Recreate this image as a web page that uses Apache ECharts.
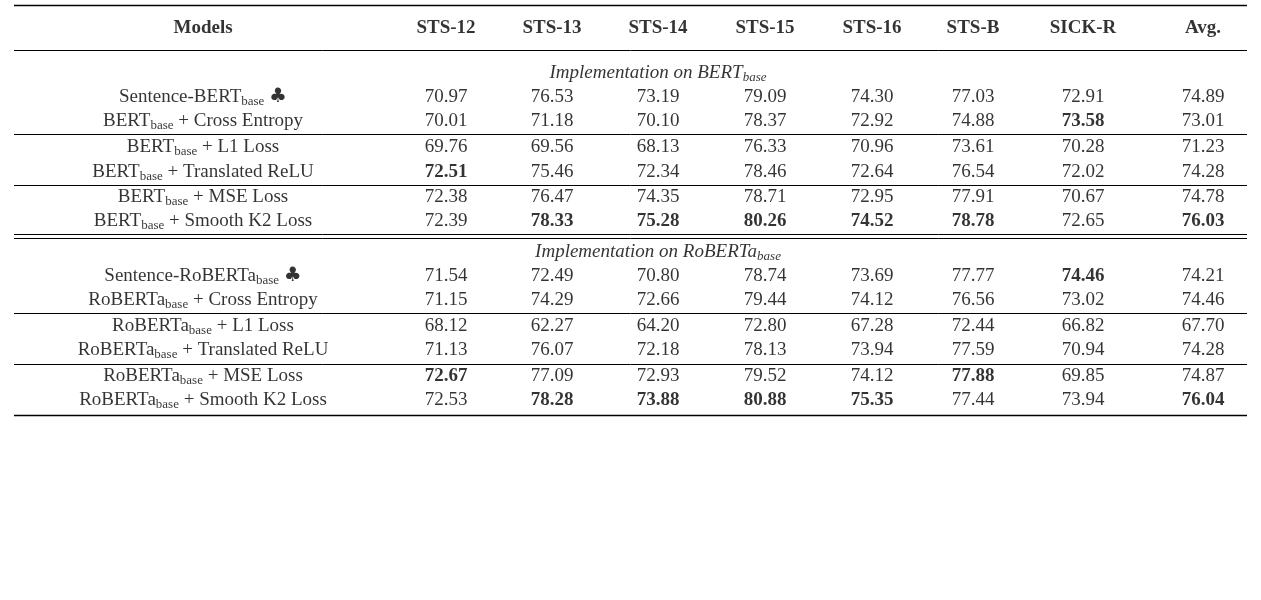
<!DOCTYPE html>
<html><head><meta charset="utf-8">
<script src="https://cdn.jsdelivr.net/npm/echarts@6/dist/echarts.min.js"></script>
<style>html,body{margin:0;background:#fff}#c{width:1261px;height:600px}</style>
</head><body><div id="c"></div>
<script>
const columns = ['Models', 'STS-12', 'STS-13', 'STS-14', 'STS-15', 'STS-16', 'STS-B', 'SICK-R', 'Avg.'];
const sections = ['{i|Implementation on BERT}{isub|base}', '{i|Implementation on RoBERTa}{isub|base}'];
const models = [
  'Sentence-BERT{sub|base} {club|♣}', 'BERT{sub|base} + Cross Entropy',
  'BERT{sub|base} + L1 Loss', 'BERT{sub|base} + Translated ReLU',
  'BERT{sub|base} + MSE Loss', 'BERT{sub|base} + Smooth K2 Loss',
  'Sentence-RoBERTa{sub|base} {club|♣}', 'RoBERTa{sub|base} + Cross Entropy',
  'RoBERTa{sub|base} + L1 Loss', 'RoBERTa{sub|base} + Translated ReLU',
  'RoBERTa{sub|base} + MSE Loss', 'RoBERTa{sub|base} + Smooth K2 Loss'
];
const scores = [
  ['70.97', '76.53', '73.19', '79.09', '74.30', '77.03', '72.91', '74.89'],
  ['70.01', '71.18', '70.10', '78.37', '72.92', '74.88', '73.58', '73.01'],
  ['69.76', '69.56', '68.13', '76.33', '70.96', '73.61', '70.28', '71.23'],
  ['72.51', '75.46', '72.34', '78.46', '72.64', '76.54', '72.02', '74.28'],
  ['72.38', '76.47', '74.35', '78.71', '72.95', '77.91', '70.67', '74.78'],
  ['72.39', '78.33', '75.28', '80.26', '74.52', '78.78', '72.65', '76.03'],
  ['71.54', '72.49', '70.80', '78.74', '73.69', '77.77', '74.46', '74.21'],
  ['71.15', '74.29', '72.66', '79.44', '74.12', '76.56', '73.02', '74.46'],
  ['68.12', '62.27', '64.20', '72.80', '67.28', '72.44', '66.82', '67.70'],
  ['71.13', '76.07', '72.18', '78.13', '73.94', '77.59', '70.94', '74.28'],
  ['72.67', '77.09', '72.93', '79.52', '74.12', '77.88', '69.85', '74.87'],
  ['72.53', '78.28', '73.88', '80.88', '75.35', '77.44', '73.94', '76.04']
];
// bold cells: [row, scoreColumn]
const bold = [[1,6],[3,0],[5,1],[5,2],[5,3],[5,4],[5,5],[5,7],[6,6],[10,0],[10,5],[11,1],[11,2],[11,3],[11,4],[11,7]];

// layout
const colX = [203, 446, 552, 658, 765, 872, 973, 1083, 1203];
const headerY = 28;
const sectionY = [73, 252];
const rowY = [97, 121, 147, 172, 197, 221, 276, 300, 326, 350, 376, 400];
const rules = [[5, 1.4], [50, 1], [134, 1], [185, 1], [234, 1], [238, 1], [313, 1], [364, 1], [415, 1.4]];
const FONT = 'Liberation Serif';

const isBold = (r, c) => bold.some(b => b[0] === r && b[1] === c);
const cells = [];
columns.forEach((c, i) => cells.push({ value: [colX[i], headerY, c, 1] }));
sections.forEach((s, i) => cells.push({ value: [658, sectionY[i], s, 2] }));
models.forEach((m, r) => {
  cells.push({ value: [colX[0], rowY[r], m, 0] });
  scores[r].forEach((v, c) => cells.push({ value: [colX[c + 1], rowY[r], v, isBold(r, c) ? 1 : 0] }));
});

const chart = echarts.init(document.getElementById('c'));
chart.setOption({
  animation: false,
  grid: { left: 0, top: 0, width: 1261, height: 600 },
  xAxis: { type: 'value', min: 0, max: 1261, show: false },
  yAxis: { type: 'value', min: 0, max: 600, inverse: true, show: false },
  series: [
    {
      type: 'lines', coordinateSystem: 'cartesian2d', silent: true,
      data: rules.map(r => ({ coords: [[14, r[0]], [1247, r[0]]], lineStyle: { width: r[1] } })),
      lineStyle: { color: '#000', opacity: 1 }
    },
    {
      type: 'scatter', symbolSize: 0, silent: true,
      data: cells,
      label: {
        show: true, position: 'inside', color: '#000', textBorderWidth: 0,
        fontFamily: FONT, fontSize: 19,
        formatter: p => p.value[3] === 1 ? '{b|' + p.value[2] + '}' : p.value[2],
        rich: {
          b: { fontFamily: FONT, fontSize: 19, fontWeight: 'bold', color: '#000' },
          i: { fontFamily: FONT, fontSize: 19, fontStyle: 'italic', color: '#000' },
          club: { fontFamily: 'DejaVu Sans', fontSize: 20, color: '#000' },
          sub: { fontFamily: FONT, fontSize: 13, color: '#000', verticalAlign: 'bottom', padding: [9, 0, 0, 0] },
          isub: { fontFamily: FONT, fontSize: 13, fontStyle: 'italic', color: '#000', verticalAlign: 'bottom', padding: [9, 0, 0, 0] }
        }
      }
    }
  ]
});
</script></body></html>
